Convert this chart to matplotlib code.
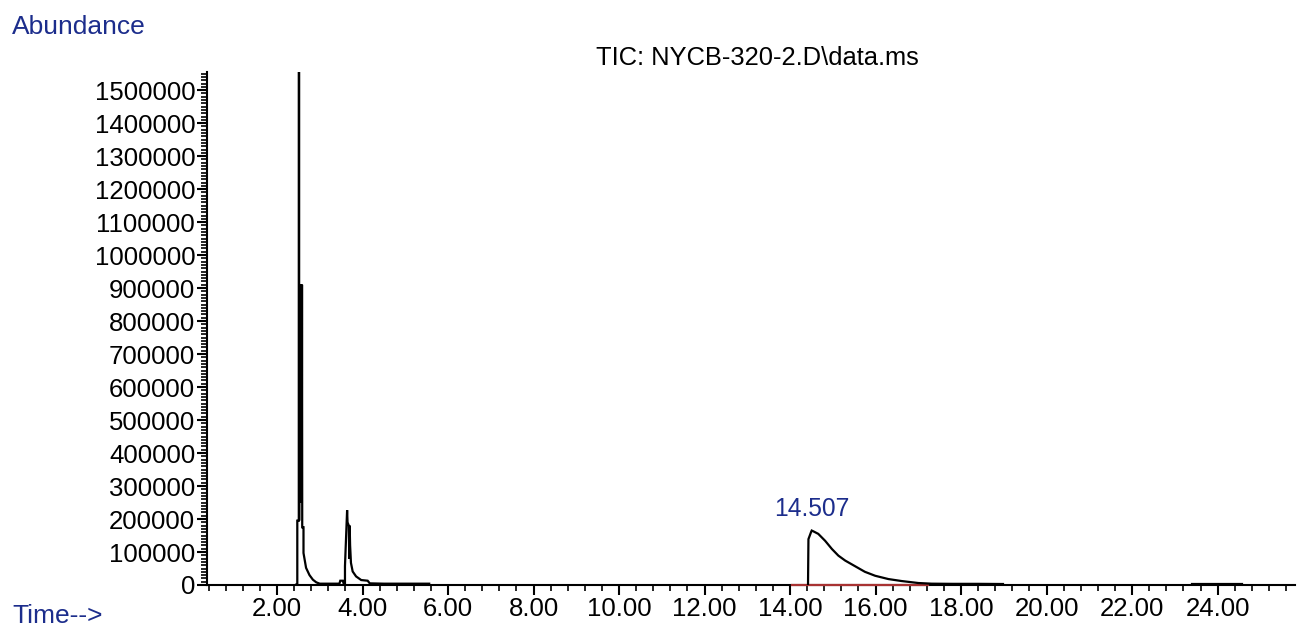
import numpy as np
import matplotlib
matplotlib.use('Agg')
import matplotlib.pyplot as plt
from matplotlib.ticker import MultipleLocator, FixedLocator

# Chromatogram trace, split into the visible segments (time in min, abundance)
t_early = [2.43, 2.475, 2.475, 2.51, 2.51, 2.518, 2.518,
           2.525, 2.53, 2.535, 2.54, 2.545, 2.55, 2.555, 2.56, 2.565, 2.57,
           2.575, 2.58, 2.585, 2.59, 2.59, 2.62, 2.62,
           2.68, 2.76, 2.84, 2.92, 3.0, 3.46, 3.48, 3.54, 3.56, 3.59, 3.59,
           3.64, 3.65, 3.68, 3.69, 3.70, 3.71, 3.73, 3.77, 3.85, 3.97, 4.12,
           4.17, 4.5, 5.0, 5.56]
a_early = [0, 4000, 195000, 195000, 1600000, 1600000, 195000,
           910000, 300000, 910000, 250000, 910000, 300000, 910000, 250000, 910000, 300000,
           910000, 250000, 910000, 200000, 175000, 175000, 97000,
           52000, 30000, 16000, 8000, 4000, 4000, 13000, 13000, 4000, 5000, 57000,
           227000, 190000, 180000, 80000, 180000, 120000, 67000, 41000, 26000, 15000, 13000,
           5000, 4000, 4000, 4000]

t_main = [14.42, 14.43, 14.49, 14.507, 14.54, 14.66, 14.82, 14.98, 15.13, 15.29,
          15.52, 15.75, 15.99, 16.30, 16.61, 17.0, 17.31, 17.8, 18.4, 18.98]
a_main = [2000, 139000, 160000, 165000, 163000, 155000, 134000, 109000, 89000, 74000,
          57000, 40000, 28000, 18000, 12000, 6000, 4000, 3500, 3500, 3000]

t_late = [23.40, 23.8, 24.2, 24.58]
a_late = [3500, 3500, 3500, 3500]

# integration baseline under the 14.507 peak
base_t = [14.04, 17.23]
base_a = [0, 0]

peak_label = 14.507
peak_height = 165000

blue = '#1c2d8c'
font = 'Liberation Sans'

fig = plt.figure(figsize=(13.02, 6.26), dpi=100)
ax = fig.add_axes([207 / 1302, 1 - 585 / 626, (1295 - 207) / 1302, (585 - 72) / 626])

ax.plot(base_t, base_a, color='#a83232', lw=1.6, zorder=2.6, clip_on=False)
for t, a in [(t_early, a_early), (t_main, a_main), (t_late, a_late)]:
    ax.plot(t, a, color='black', lw=1.6, zorder=3, solid_joinstyle='miter')

ax.set_xlim(0.363, 25.81)
ax.set_ylim(0, 1555000)

ax.spines['top'].set_visible(False)
ax.spines['right'].set_visible(False)
ax.spines['left'].set_linewidth(1.5)
ax.spines['bottom'].set_linewidth(1.5)

ax.xaxis.set_major_locator(FixedLocator(np.arange(2, 25, 2)))
ax.xaxis.set_minor_locator(MultipleLocator(0.4))
ax.yaxis.set_major_locator(MultipleLocator(100000))
ax.yaxis.set_minor_locator(MultipleLocator(10000))
ax.set_xticklabels([f'{v:.2f}' for v in np.arange(2, 25, 2)])
ax.set_yticklabels([f'{int(v)}' for v in ax.get_yticks()])
ax.tick_params(axis='both', which='major', length=7, width=1.5, labelsize=18.5, pad=1.5)
ax.tick_params(axis='both', which='minor', length=4, width=1.2)
for lab in ax.get_xticklabels() + ax.get_yticklabels():
    lab.set_fontfamily(font)

ax.annotate(f'{peak_label:.3f}', (peak_label, peak_height), xytext=(0, 7),
            textcoords='offset points', ha='center', va='bottom',
            color=blue, fontsize=17.7, family=font)

fig.text(12 / 1302, 1 - 27 / 626, 'Abundance', color=blue, fontsize=19,
         family=font, ha='left', va='center')
fig.text(12 / 1302, 1 - 616 / 626, 'Time-->', color=blue, fontsize=19,
         family=font, ha='left', va='center')
fig.text(757 / 1302, 1 - 58 / 626, 'TIC: NYCB-320-2.D\\data.ms', color='black',
         fontsize=18.4, family=font, ha='center', va='center')

fig.savefig('out.png', dpi=100)
